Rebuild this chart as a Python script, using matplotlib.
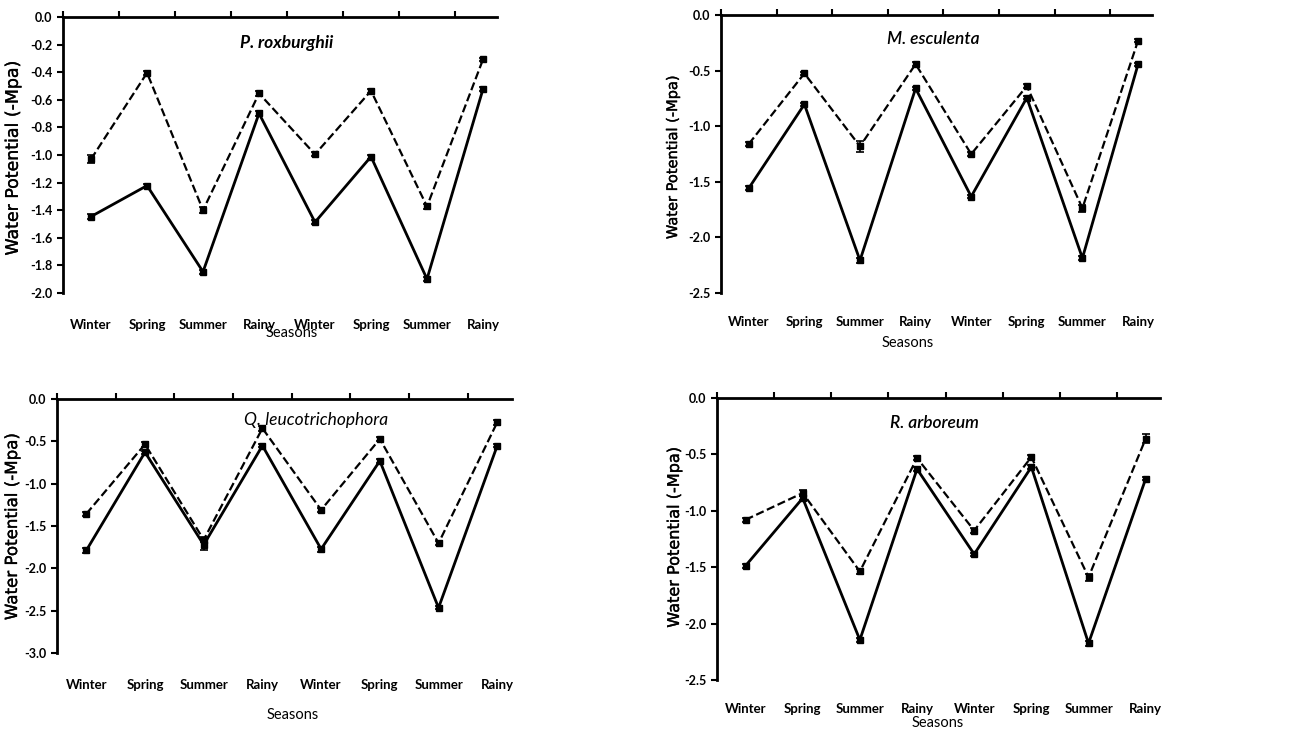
import matplotlib.pyplot as plt
import matplotlib.patheffects as pe
import numpy as np

seasons = ['Winter', 'Spring', 'Summer', 'Rainy', 'Winter', 'Spring', 'Summer', 'Rainy']

# P. roxburghii
p_dash = [-1.03, -0.405, -1.40, -0.554, -0.995, -0.535, -1.373, -0.308]
p_dash_err = [0.03, 0.015, 0.02, 0.02, 0.015, 0.015, 0.015, 0.01]
p_solid = [-1.446, -1.222, -1.846, -0.699, -1.487, -1.012, -1.899, -0.523]
p_solid_err = [0.015, 0.015, 0.015, 0.015, 0.015, 0.015, 0.015, 0.015]

# M. esculenta
m_dash = [-1.159, -0.524, -1.18, -0.44, -1.25, -0.638, -1.737, -0.23]
m_dash_err = [0.015, 0.015, 0.05, 0.015, 0.015, 0.015, 0.03, 0.015]
m_solid = [-1.557, -0.802, -2.207, -0.659, -1.632, -0.743, -2.186, -0.443]
m_solid_err = [0.02, 0.015, 0.02, 0.015, 0.015, 0.015, 0.02, 0.015]

# Q. leucotrichophora
q_dash = [-1.357, -0.535, -1.663, -0.346, -1.31, -0.472, -1.703, -0.275]
q_dash_err = [0.02, 0.03, 0.03, 0.03, 0.02, 0.02, 0.02, 0.03]
q_solid = [-1.789, -0.629, -1.722, -0.551, -1.773, -0.731, -2.466, -0.551]
q_solid_err = [0.03, 0.02, 0.06, 0.02, 0.03, 0.02, 0.02, 0.02]

# R. arboreum
r_dash = [-1.08, -0.843, -1.538, -0.533, -1.175, -0.524, -1.589, -0.361]
r_dash_err = [0.02, 0.03, 0.02, 0.015, 0.02, 0.015, 0.03, 0.04]
r_solid = [-1.488, -0.888, -2.145, -0.63, -1.385, -0.612, -2.175, -0.716]
r_solid_err = [0.015, 0.02, 0.02, 0.015, 0.015, 0.015, 0.02, 0.015]

panels = [
    # name, dash, dash err, solid, solid err, ylim bottom, ystep, axes rect, title pos, xlabel pos, ylabel pos, tick pad, title weight, ylabel size
    ('P. roxburghii', p_dash, p_dash_err, p_solid, p_solid_err, -2.0, 0.2,
     [0.0485, 0.5992, 0.3338, 0.3776], (4.5, -0.19), (0.528, -0.12), (-0.095, 0.49), 15, 'bold', 12.5),
    ('M. esculenta', m_dash, m_dash_err, m_solid, m_solid_err, -2.5, 0.5,
     [0.5546, 0.5992, 0.3315, 0.3800], (4.31, -0.21), (0.434, -0.155), (-0.095, 0.49), 13, 'semibold', 10.5),
    ('Q. leucotrichophora', q_dash, q_dash_err, q_solid, q_solid_err, -3.0, 0.5,
     [0.0438, 0.1067, 0.3500, 0.3475], (4.92, -0.25), (0.519, -0.217), (-0.079, 0.496), 15, 'normal', 12),
    ('R. arboreum', r_dash, r_dash_err, r_solid, r_solid_err, -2.5, 0.5,
     [0.5515, 0.0698, 0.3408, 0.3858], (4.3, -0.22), (0.499, -0.128), (-0.079, 0.507), 13, 'semibold', 11.6),
]

fig = plt.figure(figsize=(13, 7.31), dpi=100)
x = np.arange(1, len(seasons) + 1)

for name, yd, ed, ys, es, ybot, ystep, rect, tpos, xlpos, ylpos, pad, tw, yls in panels:
    ax = fig.add_axes(rect)
    ax.errorbar(x, ys, yerr=es, color='black', linestyle='-', linewidth=2,
                marker='s', markersize=4, capsize=3, elinewidth=1.2, capthick=1.2)
    ax.errorbar(x, yd, yerr=ed, color='black', linestyle='--', linewidth=1.6,
                marker='s', markersize=4, capsize=3, elinewidth=1.2, capthick=1.2)
    ax.set_xlim(0.5, 8.25)
    ax.set_ylim(ybot, 0)
    yt = np.arange(ybot, 0.001, ystep)
    ax.set_yticks(yt)
    ax.set_yticklabels(['%.1f' % v if abs(v) > 1e-9 else '0.0' for v in yt],
                       family='Lato', fontweight='bold', fontsize=9)
    ax.set_xticks(x)
    ax.set_xticklabels(seasons, family='Lato', fontweight='bold', fontsize=9.5)
    ax.set_xticks(np.arange(0.5, 8.5, 1), minor=True)
    ax.tick_params(axis='x', which='major', bottom=False, top=False, labelbottom=True, pad=pad)
    ax.tick_params(axis='x', which='minor', bottom=False, top=True, direction='out', length=4, width=1.5)
    ax.tick_params(axis='y', direction='out', length=4, width=1.5)
    ax.spines['bottom'].set_visible(False)
    ax.spines['right'].set_visible(False)
    ax.spines['top'].set_linewidth(2)
    ax.spines['left'].set_linewidth(2)
    ax.text(tpos[0], tpos[1], name, style='italic', fontweight=tw, family='Lato',
            fontsize=12.5, ha='center', va='center')
    ax.set_xlabel('Seasons', family='Lato', fontsize=10.5)
    ax.xaxis.set_label_coords(xlpos[0], xlpos[1])
    yl = ax.set_ylabel('Water Potential (-Mpa)', family='DejaVu Sans', fontsize=yls)
    yl.set_path_effects([pe.withStroke(linewidth=0.25, foreground='black')])
    ax.yaxis.set_label_coords(ylpos[0], ylpos[1])

plt.savefig('out.png', dpi=100)
